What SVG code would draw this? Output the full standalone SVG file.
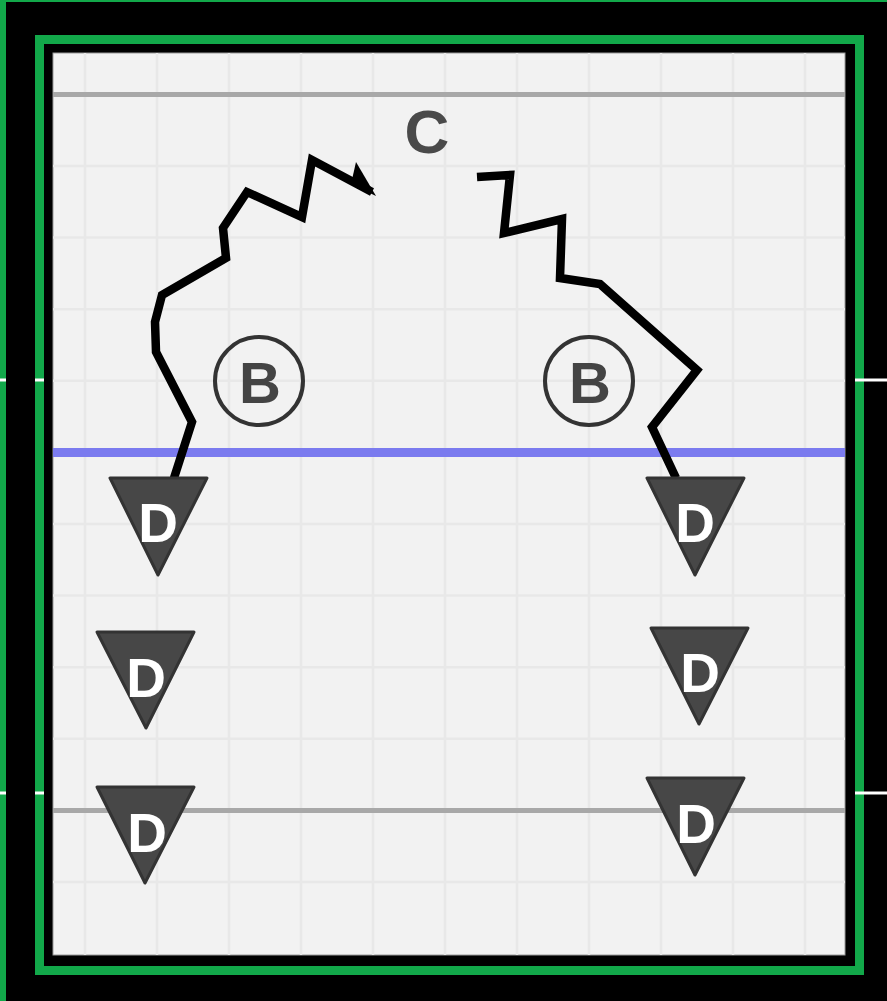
<svg xmlns="http://www.w3.org/2000/svg" width="887" height="1001" viewBox="0 0 887 1001">
  <defs>
    <style>
      .grid { stroke: #e8e8e8; stroke-width: 2.5; }
      .route { fill: none; stroke: #000; stroke-width: 8.5; stroke-linejoin: miter; stroke-miterlimit: 6; stroke-linecap: butt; }
      .tri { fill: #474747; stroke: #333; stroke-width: 3; stroke-linejoin: round; }
      .dlab { font-family: "Liberation Sans", Arial, sans-serif; font-weight: bold; font-size: 55px; fill: #fff; text-anchor: middle; }
      .blab { font-family: "Liberation Sans", Arial, sans-serif; font-weight: bold; font-size: 58px; fill: #444; text-anchor: middle; }
      .bcirc { fill: none; stroke: #333; stroke-width: 4; }
      .tick { stroke: #fff; stroke-width: 3; }
    </style>
  </defs>
  <!-- frame -->
  <rect x="0" y="0" width="887" height="1001" fill="#12a84a"/>
  <rect x="6" y="2" width="881" height="999" fill="#000"/>
  <rect x="39.5" y="39.5" width="820" height="931" fill="none" stroke="#12a84a" stroke-width="9"/>
  <line class="tick" x1="0" y1="380" x2="6" y2="380"/>
  <line class="tick" x1="35" y1="380" x2="44" y2="380"/>
  <line class="tick" x1="855" y1="380" x2="887" y2="380"/>
  <line class="tick" x1="0" y1="793" x2="6" y2="793"/>
  <line class="tick" x1="35" y1="793" x2="44" y2="793"/>
  <line class="tick" x1="855" y1="793" x2="887" y2="793"/>
  <rect x="53" y="53" width="792" height="902" fill="#f2f2f2" stroke="#9a9a9a" stroke-width="1"/>
  <!-- grid -->
  <g id="grid">
    <line class="grid" x1="85" y1="53" x2="85" y2="955"/>
    <line class="grid" x1="157" y1="53" x2="157" y2="955"/>
    <line class="grid" x1="229" y1="53" x2="229" y2="955"/>
    <line class="grid" x1="301" y1="53" x2="301" y2="955"/>
    <line class="grid" x1="373" y1="53" x2="373" y2="955"/>
    <line class="grid" x1="445" y1="53" x2="445" y2="955"/>
    <line class="grid" x1="517" y1="53" x2="517" y2="955"/>
    <line class="grid" x1="589" y1="53" x2="589" y2="955"/>
    <line class="grid" x1="661" y1="53" x2="661" y2="955"/>
    <line class="grid" x1="733" y1="53" x2="733" y2="955"/>
    <line class="grid" x1="805" y1="53" x2="805" y2="955"/>
    <line class="grid" x1="53" y1="166" x2="845" y2="166"/>
    <line class="grid" x1="53" y1="237.6" x2="845" y2="237.6"/>
    <line class="grid" x1="53" y1="309.2" x2="845" y2="309.2"/>
    <line class="grid" x1="53" y1="380.8" x2="845" y2="380.8"/>
    <line class="grid" x1="53" y1="524" x2="845" y2="524"/>
    <line class="grid" x1="53" y1="595.6" x2="845" y2="595.6"/>
    <line class="grid" x1="53" y1="667.2" x2="845" y2="667.2"/>
    <line class="grid" x1="53" y1="738.8" x2="845" y2="738.8"/>
    <line class="grid" x1="53" y1="882" x2="845" y2="882"/>
  </g>
  <line x1="53" y1="94.4" x2="845" y2="94.4" stroke="#a8a8a8" stroke-width="5"/>
  <line x1="53" y1="810.4" x2="845" y2="810.4" stroke="#a8a8a8" stroke-width="5"/>
  <line x1="53" y1="452.6" x2="845" y2="452.6" stroke="#7b7bef" stroke-width="9"/>

  <!-- labels -->
  <g id="C">
    <text x="427" y="153" font-family="Liberation Sans, Arial, sans-serif" font-weight="bold" font-size="62" fill="#4a4a4a" text-anchor="middle">C</text>
  </g>
  <g id="B-left">
    <circle class="bcirc" cx="259" cy="381" r="44"/>
    <text class="blab" x="260" y="403">B</text>
  </g>
  <g id="B-right">
    <circle class="bcirc" cx="589" cy="381" r="44"/>
    <text class="blab" x="590" y="403">B</text>
  </g>

  <!-- connectors -->
  <g id="routes">
    <polyline class="route" points="174,478 192,422 156,352 155,322 162,295 226,258 223,228 247,192 302,217 312,160 372,192"/>
    <polygon points="356,162 376,196 351,184" fill="#000"/>
    <polyline class="route" points="477,177 510,175 504,233 562,219 560,278 600,284 697,370 652,427 676,478"/>
  </g>

  <!-- D nodes -->
  <g id="D-left-1">
    <polygon class="tri" points="110,478 207,478 158,575"/>
    <text class="dlab" x="158" y="542">D</text>
  </g>
  <g id="D-left-2">
    <polygon class="tri" points="97,632 194,632 146,728"/>
    <text class="dlab" x="146" y="697">D</text>
  </g>
  <g id="D-left-3">
    <polygon class="tri" points="97,787 194,787 145,883"/>
    <text class="dlab" x="147" y="852">D</text>
  </g>
  <g id="D-right-1">
    <polygon class="tri" points="647,478 744,478 695,575"/>
    <text class="dlab" x="695" y="542">D</text>
  </g>
  <g id="D-right-2">
    <polygon class="tri" points="651,628 748,628 699,724"/>
    <text class="dlab" x="700" y="692">D</text>
  </g>
  <g id="D-right-3">
    <polygon class="tri" points="647,778 744,778 695,875"/>
    <text class="dlab" x="696" y="843">D</text>
  </g>
</svg>
